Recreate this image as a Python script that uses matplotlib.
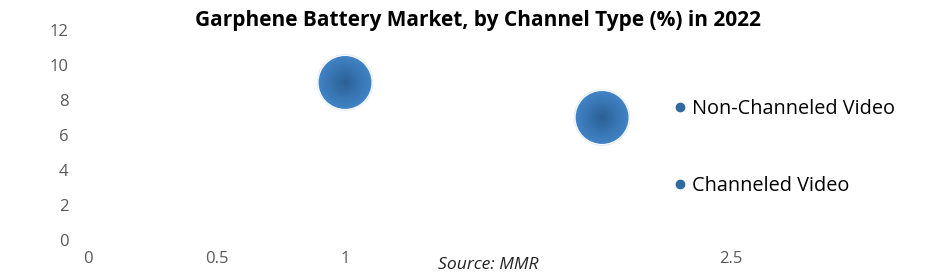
import matplotlib
matplotlib.use("Agg")
import matplotlib.pyplot as plt
import numpy as np
from matplotlib.lines import Line2D

categories = ["Non-Channeled Video", "Channeled Video"]
x_vals = [1, 2]
y_vals = [9, 7]
sizes = [100, 100]
x_ticks = [0, 0.5, 1, 2.5]
y_ticks = [0, 2, 4, 6, 8, 10, 12]

plt.rcParams['font.family'] = ['Open Sans', 'DejaVu Sans']

fig = plt.figure(figsize=(9.41, 2.80), dpi=100)
ax = fig.add_axes([0.0935, 0.143, 0.8195, 0.75])

base_area = 1450
# glow / white ring
ax.scatter(x_vals, y_vals, s=[base_area * 1.16 * s / 100 for s in sizes],
           color="#e6eef7", edgecolor="none", zorder=2)
ax.scatter(x_vals, y_vals, s=[base_area * 1.07 * s / 100 for s in sizes],
           color="white", edgecolor="none", zorder=3)
# gradient bubble
n = 14
edge = np.array([0x40, 0x82, 0xc4]) / 255
center = np.array([0x2a, 0x5f, 0x94]) / 255
for i in range(n):
    t = i / (n - 1)
    col = edge * (1 - t) + center * t
    frac = (1 - t) ** 1.0
    ax.scatter(x_vals, y_vals, s=[base_area * max(frac, 0.02) ** 2 * s / 100 for s in sizes],
               color=col, edgecolor="none", zorder=4 + i)

ax.set_xlim(0, 3)
ax.set_ylim(0, 12)
ax.set_xticks(x_ticks)
ax.set_xticklabels([f"{v:g}" for v in x_ticks])
ax.set_yticks(y_ticks)
for s in ax.spines.values():
    s.set_visible(False)
ax.tick_params(length=0, colors="#595959", labelsize=12)
ax.tick_params(axis="y", pad=14)
ax.tick_params(axis="x", pad=8)

handles = [Line2D([], [], marker="o", linestyle="none", markersize=6,
                  markerfacecolor="#2f6aa0", markeredgecolor="#2f6aa0") for _ in categories]
fig.legend(handles, categories, loc="upper left", bbox_to_anchor=(0.693, 0.712),
           frameon=False, fontsize=14.3, labelspacing=2.9, handletextpad=0.1,
           handlelength=1.0)

fig.text(0.508, 0.965, "Garphene Battery Market, by Channel Type (%) in 2022",
         ha="center", va="top", fontsize=15, fontweight="bold", color="black")
fig.text(0.519, 0.025, "Source: MMR", ha="center", va="bottom", fontsize=12.6,
         style="italic", color="#222222")

fig.savefig("out.png", dpi=100)
